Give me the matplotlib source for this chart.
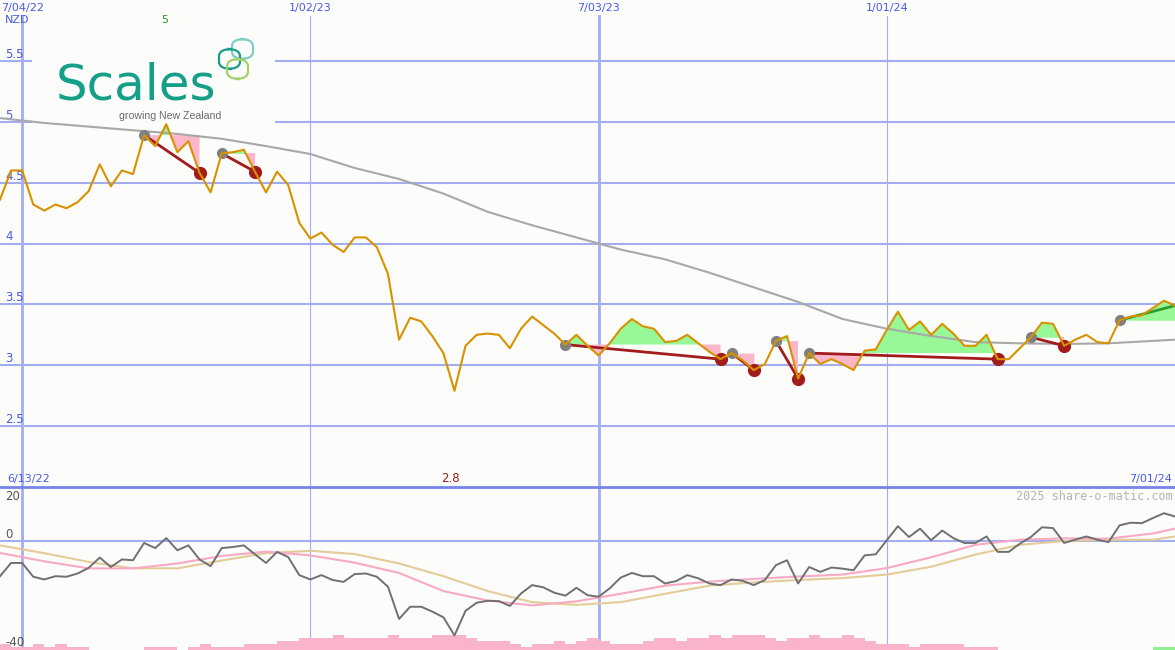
import matplotlib
matplotlib.use('Agg')
import matplotlib.pyplot as plt
import matplotlib.dates as mdates
from matplotlib.patches import FancyBboxPatch, Rectangle
import numpy as np
import pandas as pd

W, H = 1175, 650
SPLIT = 487  # pixel row of the panel separator

# weekly closing price, NZD
weeks = pd.date_range('2022-06-20', periods=107, freq='7D')
price = [4.36, 4.60, 4.60, 4.32, 4.27, 4.32, 4.29, 4.34, 4.43, 4.65,
         4.47, 4.60, 4.57, 4.89, 4.80, 4.98, 4.75, 4.84, 4.58, 4.42,
         4.74, 4.75, 4.77, 4.59, 4.42, 4.59, 4.48, 4.17, 4.04, 4.09,
         3.99, 3.93, 4.05, 4.05, 3.97, 3.75, 3.21, 3.39, 3.36, 3.24,
         3.10, 2.79, 3.16, 3.25, 3.26, 3.25, 3.14, 3.30, 3.40, 3.33,
         3.26, 3.17, 3.25, 3.16, 3.08, 3.18, 3.30, 3.38, 3.32, 3.30,
         3.19, 3.20, 3.25, 3.18, 3.11, 3.05, 3.10, 3.04, 2.96, 3.01,
         3.20, 3.24, 2.89, 3.10, 3.01, 3.05, 3.01, 2.96, 3.12, 3.13,
         3.29, 3.44, 3.29, 3.36, 3.25, 3.34, 3.26, 3.16, 3.16, 3.25,
         3.05, 3.05, 3.14, 3.23, 3.35, 3.34, 3.16, 3.21, 3.25, 3.19,
         3.18, 3.37, 3.40, 3.41, 3.47, 3.53, 3.49]

# slow moving average (sampled every 4 weeks)
avg_dates = ['2022-06-20', '2022-07-18', '2022-08-15', '2022-09-12',
             '2022-10-10', '2022-11-07', '2022-12-05', '2023-01-02',
             '2023-01-30', '2023-02-27', '2023-03-27', '2023-04-24',
             '2023-05-22', '2023-06-19', '2023-07-17', '2023-08-14',
             '2023-09-11', '2023-10-09', '2023-11-06', '2023-12-04',
             '2024-01-01', '2024-01-29', '2024-02-26', '2024-03-25',
             '2024-04-22', '2024-05-20', '2024-06-17', '2024-07-01']
price_avg = [5.03, 4.99, 4.96, 4.93, 4.90, 4.86, 4.80, 4.735, 4.62, 4.53,
             4.41, 4.26, 4.15, 4.05, 3.95, 3.87, 3.76, 3.64, 3.52, 3.38,
             3.30, 3.24, 3.19, 3.18, 3.175, 3.18, 3.20, 3.21]

# lower panel oscillator and its two averages
osc = [-13.0, -8.1, -8.1, -13.2, -14.2, -13.0, -13.2, -12.0, -9.9, -6.1,
       -9.6, -6.8, -7.1, -0.7, -2.6, 1.1, -3.4, -1.6, -6.8, -9.3,
       -2.6, -2.2, -1.6, -4.9, -8.1, -4.0, -5.9, -12.6, -14.2, -12.6,
       -14.4, -15.1, -12.2, -12.0, -13.2, -16.9, -28.8, -24.3, -24.3, -26.1,
       -28.2, -34.9, -25.8, -22.8, -22.1, -22.2, -24.0, -19.4, -16.3, -17.1,
       -19.1, -20.2, -17.3, -20.0, -20.6, -17.5, -13.5, -11.8, -13.0, -13.0,
       -15.7, -14.8, -12.6, -13.8, -15.7, -16.3, -14.2, -14.7, -16.3, -14.4,
       -8.9, -7.1, -15.7, -9.6, -11.4, -9.8, -10.2, -10.8, -5.3, -4.9,
       0.3, 5.5, 1.5, 4.6, 0.3, 3.9, 1.1, -0.7, -0.7, 1.7,
       -4.0, -4.0, -1.0, 1.5, 5.1, 4.8, -0.7, 0.5, 1.7, 0.5,
       -0.4, 5.8, 6.8, 6.6, 8.5, 10.3, 9.1]
osc_fast = [-4.4, -7.5, -10.1, -10.1, -8.3, -5.5, -3.9, -5.3, -8.0, -11.8,
            -18.5, -22.0, -23.8, -22.3, -19.5, -16.5, -15.0, -14.0, -13.1, -12.4,
            -10.0, -6.0, -1.4, 0.5, 1.0, 0.9, 2.8, 4.6]
osc_slow = [-1.6, -4.5, -7.7, -10.1, -10.1, -7.2, -4.5, -3.6, -4.8, -8.3,
            -13.0, -18.5, -22.6, -23.6, -22.6, -19.5, -16.5, -15.3, -14.4, -13.7,
            -12.4, -9.5, -5.0, -1.4, 0.0, 0.5, 0.5, 1.7]

# relative weekly volume
volume = [2, 1, 1, 2, 1, 2, 1, 1, 0, 0, 0, 0, 0, 1, 1, 1, 0, 1, 2, 1,
          1, 1, 2, 2, 2, 3, 3, 4, 4, 4, 5, 4, 4, 4, 4, 5, 4, 4, 4, 5,
          5, 5, 4, 3, 3, 3, 2, 1, 2, 2, 3, 2, 3, 4, 3, 2, 2, 2, 3, 4,
          4, 3, 4, 4, 5, 4, 5, 5, 5, 4, 3, 4, 4, 5, 4, 4, 5, 4, 3, 2,
          2, 2, 1, 2, 2, 2, 2, 1, 1, 1, 0, 0, 0, 0, 0, 0, 0, 0, 0, 0,
          0, 0, 0, 0, 1, 1, 0]
volume_up_weeks = ['2024-06-17', '2024-06-24']

# (start week, end week) of the trend lines
trend_down = [(13, 18), (20, 23), (51, 65), (66, 68), (70, 72), (73, 90), (93, 96)]
trend_up = [(101, 106)]

price_ticks = [2.5, 3, 3.5, 4, 4.5, 5, 5.5]
price_tick_labels = ['2.5', '3', '3.5', '4', '4.5', '5', '5.5']
date_marks = ['2022-07-04', '2023-01-02', '2023-07-03', '2024-01-01']
date_mark_labels = ['7/04/22', '1/02/23', '7/03/23', '1/01/24']
date_mark_bold = [True, False, True, False]

BG = '#fcfdfb'
GRID = '#a3adf0'
BLUE_TXT = '#4a5ae6'
ORANGE = '#d89200'
MA_GRAY = '#a8a8a8'
DARK_RED = '#a21c1c'
GREEN_FILL = '#98f898'
PINK_FILL = '#f9b7c9'

fig = plt.figure(figsize=(W / 100, H / 100), dpi=100, facecolor=BG)

x = mdates.date2num(weeks)
p = np.array(price)
xa = mdates.date2num(pd.to_datetime(avg_dates))

top_h = SPLIT / H
ax = fig.add_axes([0, 1 - top_h, 1, top_h], facecolor=BG)
ax.set_xlim(x[0], x[-1])
ax.set_ylim(2.0, 6.0)
ax.axis('off')

for v, lab in zip(price_ticks, price_tick_labels):
    ax.axhline(v, color=GRID, lw=1.5, zorder=1)
    ax.text(5 / W, v, lab, transform=ax.get_yaxis_transform(), ha='left',
            va='bottom', fontsize=8.5, color=BLUE_TXT, zorder=2)

vline_top = 1 - 16 / SPLIT
for d, lab, bold in zip(date_marks, date_mark_labels, date_mark_bold):
    xd = mdates.date2num(pd.Timestamp(d))
    ax.axvline(xd, ymax=vline_top, color=GRID, lw=2.0 if bold else 0.8, zorder=1)
    ax.text(xd, 1 - 8 / SPLIT, lab, transform=ax.get_xaxis_transform(),
            ha='center', va='center', fontsize=8, color=BLUE_TXT)

# logo box
ax.add_patch(Rectangle((32 / W, 1 - 126 / H), 243 / W, 96 / H, transform=fig.transFigure,
                       facecolor=BG, edgecolor='none', zorder=1.5))
ax.text(56 / W, 1 - 99 / H, 'Scales', transform=fig.transFigure, fontsize=36,
        color='#14a088', ha='left', va='baseline', family='DejaVu Sans', zorder=2)
ax.text(221 / W, 1 - 119 / H, 'growing New Zealand', transform=fig.transFigure,
        fontsize=7.6, color='#6b6b6b', ha='right', va='baseline',
        family='Liberation Sans', zorder=2)
for (lx, ly), col in zip([(232, 39), (219, 49), (227, 59)],
                         ['#7fcdc4', '#1a9c88', '#a6d06a']):
    ax.add_patch(FancyBboxPatch((lx / W, 1 - (ly + 20) / H), 21 / W, 20 / H,
                                boxstyle='round,pad=0,rounding_size=0.011',
                                transform=fig.transFigure, facecolor='none',
                                edgecolor=col, lw=1.6, zorder=2))

# shaded regions relative to each trend start
for a, b in trend_down + trend_up:
    xs, ys, base = x[a:b + 1], p[a:b + 1], p[a]
    ax.fill_between(xs, base, ys, where=ys >= base, interpolate=True,
                    color=GREEN_FILL, lw=0, zorder=3)
    ax.fill_between(xs, base, ys, where=ys <= base, interpolate=True,
                    color=PINK_FILL, lw=0, zorder=3)

ax.plot(xa, price_avg, color=MA_GRAY, lw=1.5, zorder=4)

for a, b in trend_down:
    ax.plot([x[a], x[b]], [p[a], p[b]], color=DARK_RED, lw=2, zorder=5)
    ax.plot(x[a], p[a], 'o', color='#808080', ms=7, zorder=6)
    ax.plot(x[b], p[b], 'o', color=DARK_RED, ms=8.5, zorder=6)
for a, b in trend_up:
    ax.plot([x[a], x[b]], [p[a], p[b]], color='#2e9e2e', lw=2, zorder=5)
    ax.plot(x[a], p[a], 'o', color='#808080', ms=7, zorder=6)

ax.plot(x, p, color=ORANGE, lw=1.5, zorder=7)

# lower panel
bot_h = (H - SPLIT) / H
ax_vol = fig.add_axes([0, 0, 1, bot_h], facecolor=BG)
ax_vol.set_xlim(x[0], x[-1])
ax_vol.set_ylim(0, 55.7)
ax_vol.axis('off')
for d, bold in zip(date_marks, date_mark_bold):
    ax_vol.axvline(mdates.date2num(pd.Timestamp(d)), color=GRID,
                   lw=2.0 if bold else 0.8, zorder=1)
up = set(pd.to_datetime(volume_up_weeks))
vol_colors = ['#90f090' if w in up else '#f9b4c9' for w in weeks]
ax_vol.bar(x, volume, width=7, align='edge', color=vol_colors, lw=0, zorder=2)

ax_b = fig.add_axes([0, 0, 1, bot_h], facecolor='none')
ax_b.set_xlim(x[0], x[-1])
ax_b.set_ylim(-40.3, 20)
ax_b.axis('off')
ax_b.axhline(0, color=GRID, lw=1.5, zorder=1)
ax_b.axhline(20, color='#7584e6', lw=2, zorder=1, clip_on=False)
ax_b.plot(xa, osc_slow, color='#e4cc98', lw=1.5, zorder=3)
ax_b.plot(xa, osc_fast, color='#f8aac4', lw=1.5, zorder=3)
ax_b.plot(x, osc, color='#707070', lw=1.4, zorder=4)

fig.text(5 / W, 1 - 20 / H, 'NZD', fontsize=8, color=BLUE_TXT, va='center')
fig.text(165 / W, 1 - 20 / H, '5', fontsize=8, color='#22a022', va='center', ha='center')
fig.text(7 / W, 1 - 479 / H, '6/13/22', fontsize=8, color=BLUE_TXT, va='center')
fig.text(450 / W, 1 - 479 / H, '2.8', fontsize=8.5, color=DARK_RED, va='center', ha='center')
fig.text(1172 / W, 1 - 479 / H, '7/01/24', fontsize=8, color=BLUE_TXT, va='center', ha='right')
fig.text(1173 / W, 1 - 496 / H, '2025 share-o-matic.com', fontsize=8.5,
         family='DejaVu Sans Mono', color='#b4b4b4', va='center', ha='right')
for lab, yy in [('20', 497), ('0', 534), ('-40', 642)]:
    fig.text(5 / W, 1 - yy / H, lab, fontsize=8.5, color='#555555', va='center')

fig.savefig('out.png', dpi=100, facecolor=BG)
